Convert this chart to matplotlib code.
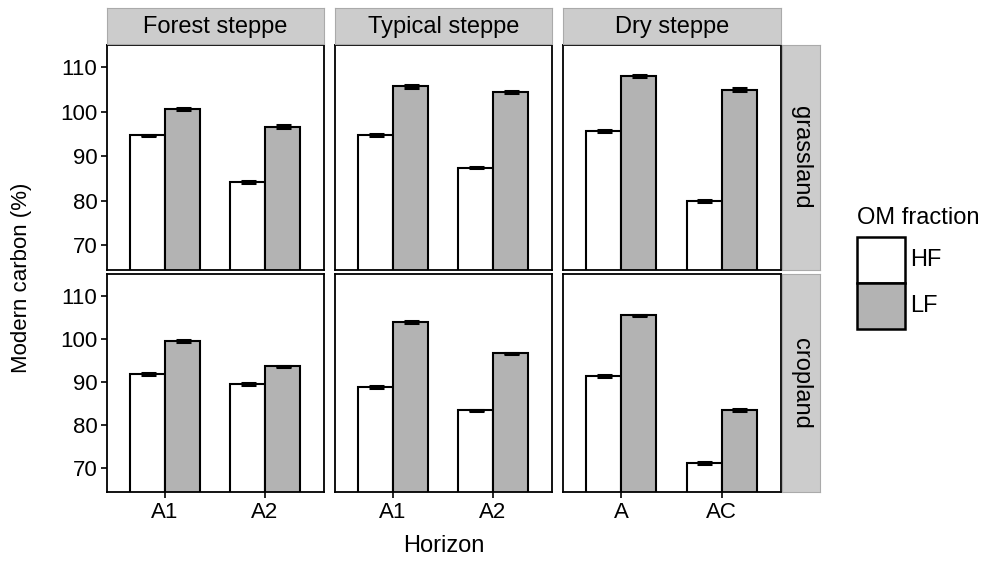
import numpy as np
import matplotlib.pyplot as plt
from matplotlib.patches import Rectangle

plt.rcParams['font.family'] = ['Liberation Sans', 'DejaVu Sans']

# data: rows = land use, cols = steppe type
steppes = ['Forest steppe', 'Typical steppe', 'Dry steppe']
land_uses = ['grassland', 'cropland']
horizons = [['A1', 'A2'], ['A1', 'A2'], ['A', 'AC']]
fractions = ['HF', 'LF']
fill_colors = ['white', '#b3b3b3']

# values per steppe: [horizon 1, horizon 2]
grass_hf = [[94.7, 84.3], [94.8, 87.5], [95.7, 80.0]]
grass_lf = [[100.7, 96.7], [105.7, 104.4], [108.0, 105.0]]
crop_hf = [[91.9, 89.6], [88.9, 83.4], [91.4, 71.3]]
crop_lf = [[99.4, 93.6], [103.8, 96.6], [105.4, 83.4]]
grass_err = [[[0.2, 0.2], [0.25, 0.2], [0.2, 0.15]], [[0.25, 0.25], [0.3, 0.25], [0.25, 0.25]]]
crop_err = [[[0.2, 0.2], [0.2, 0.2], [0.2, 0.2]], [[0.2, 0.2], [0.25, 0.2], [0.2, 0.25]]]

values = {'grassland': (grass_hf, grass_lf, grass_err),
          'cropland': (crop_hf, crop_lf, crop_err)}

W, H = 989, 563
fig = plt.figure(figsize=(W / 100, H / 100), dpi=100)

def px(x0, y0, x1, y1):
    return [x0 / W, 1 - y1 / H, (x1 - x0) / W, (y1 - y0) / H]

col_x = [(107, 324), (335, 552), (563, 781)]
row_y = [(45, 270), (274, 492)]
bw = 0.35
fs = 17

for r, lu in enumerate(land_uses):
    hf, lf, err = values[lu]
    for c, st in enumerate(steppes):
        x0, x1 = col_x[c]
        y0, y1 = row_y[r]
        ax = fig.add_axes(px(x0, y0, x1, y1))
        xs = np.arange(1, 3)
        for k, series in enumerate([hf[c], lf[c]]):
            pos = xs + (k - 0.5) * bw
            ax.bar(pos, series, width=bw, color=fill_colors[k], edgecolor='black',
                   linewidth=1.5, zorder=2)
            ax.errorbar(pos, series, yerr=err[k][c], fmt='none', ecolor='black',
                        elinewidth=1.0, capsize=5.4, capthick=2.2, zorder=3)
        ax.set_xlim(0.42, 2.59)
        ax.set_ylim(64.5, 115)
        ax.set_yticks([70, 80, 90, 100, 110])
        ax.set_xticks(xs)
        ax.set_xticklabels(horizons[c])
        ax.tick_params(axis='both', direction='out', length=4, width=1.2,
                       labelsize=16, colors='black', pad=3)
        if c > 0:
            ax.tick_params(axis='y', left=False, labelleft=False)
        if r == 0:
            ax.tick_params(axis='x', bottom=False, labelbottom=False)
        for s in ax.spines.values():
            s.set_linewidth(1.3)
        # top strip
        if r == 0:
            sax = fig.add_axes(px(x0, 8, x1, 44))
            sax.set_xticks([]); sax.set_yticks([])
            sax.set_facecolor('#cccccc')
            for s in sax.spines.values():
                s.set_color('#aaaaaa'); s.set_linewidth(0.8)
            sax.text(0.5, 0.48, st, ha='center', va='center', fontsize=fs,
                     transform=sax.transAxes)
        # right strip
        if c == 2:
            rax = fig.add_axes(px(782, y0, 820, y1))
            rax.set_xticks([]); rax.set_yticks([])
            rax.set_facecolor('#cccccc')
            for s in rax.spines.values():
                s.set_color('#aaaaaa'); s.set_linewidth(0.8)
            rax.text(0.5, 0.5, lu, ha='center', va='center', fontsize=fs,
                     rotation=-90, transform=rax.transAxes)

fig.text(444 / W, 1 - 546 / H, 'Horizon', ha='center', va='center', fontsize=fs)
fig.text(22 / W, 1 - 278 / H, 'Modern carbon (%)', ha='center', va='center',
         fontsize=16, rotation=90)

# legend
fig.text(857 / W, 1 - 218 / H, 'OM fraction', ha='left', va='center', fontsize=fs)
for k, lab in enumerate(fractions):
    ly0 = 237 + k * 46
    fig.patches.append(Rectangle((857 / W, 1 - (ly0 + 46) / H), 48 / W, 46 / H,
                                 facecolor=fill_colors[k], edgecolor='black',
                                 linewidth=1.8, transform=fig.transFigure))
    fig.text(910 / W, 1 - (ly0 + 23) / H, lab, ha='left', va='center', fontsize=fs)

fig.savefig('out.png', dpi=100)
